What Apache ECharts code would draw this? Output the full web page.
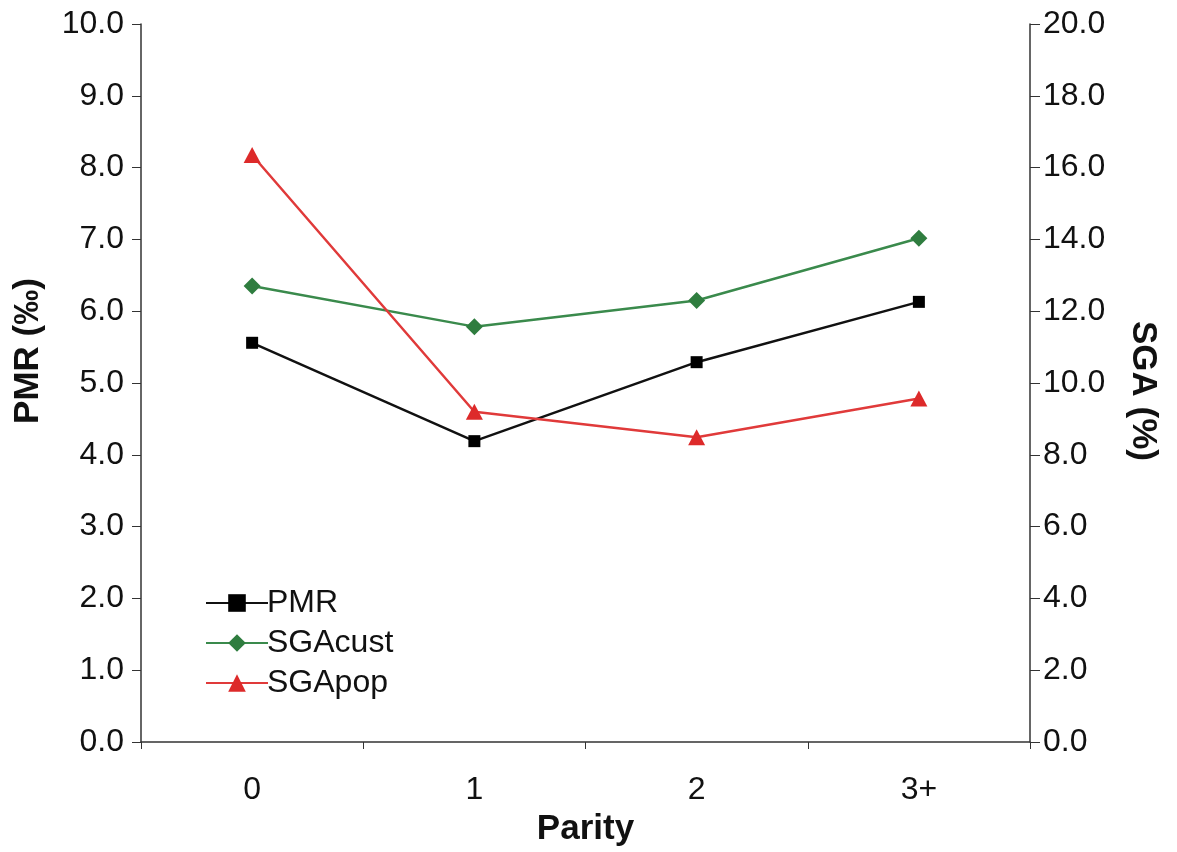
<!DOCTYPE html>
<html><head><meta charset="utf-8">
<script src="https://cdn.jsdelivr.net/npm/echarts@6/dist/echarts.min.js"></script>
<style>html,body{margin:0;padding:0;background:#fff}#c{width:1177px;height:852px}</style>
</head><body><div id="c"></div>
<script>
const categories = ['0', '1', '2', '3+'];
const pmr = [5.56, 4.19, 5.29, 6.13];
const sgaCust = [12.7, 11.57, 12.3, 14.03];
const sgaPop = [16.35, 9.2, 8.49, 9.57];

const font = 'Liberation Sans, Arial, Helvetica, sans-serif';
const chart = echarts.init(document.getElementById('c'));
chart.setOption({
  animation: false,
  backgroundColor: '#fff',
  grid: {left: 141, right: 147, top: 24, bottom: 102, containLabel: false},
  legend: {
    orient: 'vertical', left: 200, top: 582, itemGap: 8, itemWidth: 62, itemHeight: 22,
    textStyle: {fontFamily: font, fontSize: 32, color: '#111', padding: [0, 0, 0, -6]},
    data: ['PMR', 'SGAcust', 'SGApop']
  },
  xAxis: {
    type: 'category', data: categories, boundaryGap: true,
    name: 'Parity', nameLocation: 'middle', nameGap: 70,
    nameTextStyle: {fontFamily: font, fontSize: 35, fontWeight: 'bold', color: '#111'},
    axisLine: {lineStyle: {color: '#333', width: 1.5}},
    axisTick: {show: true, length: 7, lineStyle: {color: '#333'}},
    axisLabel: {fontFamily: font, fontSize: 32, color: '#111', margin: 32}
  },
  yAxis: [{
    type: 'value', min: 0, max: 10, interval: 1, position: 'left',
    name: 'PMR (‰)', nameLocation: 'middle', nameGap: 95, nameRotate: 90,
    nameTextStyle: {fontFamily: font, fontSize: 35, fontWeight: 'bold', color: '#111', padding: [0, 0, 0, 64]},
    axisLine: {show: true, lineStyle: {color: '#333', width: 1.5}},
    axisTick: {show: true, length: 9, lineStyle: {color: '#333'}},
    splitLine: {show: false},
    axisLabel: {fontFamily: font, fontSize: 32, color: '#111', margin: 17, formatter: v => v.toFixed(1)}
  }, {
    type: 'value', min: 0, max: 20, interval: 2, position: 'right',
    name: 'SGA (%)', nameLocation: 'middle', nameGap: 95, nameRotate: -90,
    nameTextStyle: {fontFamily: font, fontSize: 35, fontWeight: 'bold', color: '#111', padding: [0, 0, 0, 16]},
    axisLine: {show: true, lineStyle: {color: '#333', width: 1.5}},
    axisTick: {show: true, length: 10, lineStyle: {color: '#333'}},
    splitLine: {show: false},
    axisLabel: {fontFamily: font, fontSize: 32, color: '#111', margin: 13, formatter: v => v.toFixed(1)}
  }],
  series: [{
    name: 'PMR', type: 'line', yAxisIndex: 0, data: pmr,
    symbol: 'rect', symbolSize: 12,
    lineStyle: {color: '#111', width: 2.5}, itemStyle: {color: '#000'}
  }, {
    name: 'SGAcust', type: 'line', yAxisIndex: 1, data: sgaCust,
    symbol: 'diamond', symbolSize: [17, 17],
    lineStyle: {color: '#3a8a4c', width: 2.5}, itemStyle: {color: '#2f7d3f'}
  }, {
    name: 'SGApop', type: 'line', yAxisIndex: 1, data: sgaPop,
    symbol: 'triangle', symbolSize: [17, 16],
    lineStyle: {color: '#e03a3a', width: 2.5}, itemStyle: {color: '#dd2a2a'}
  }]
});
</script></body></html>
